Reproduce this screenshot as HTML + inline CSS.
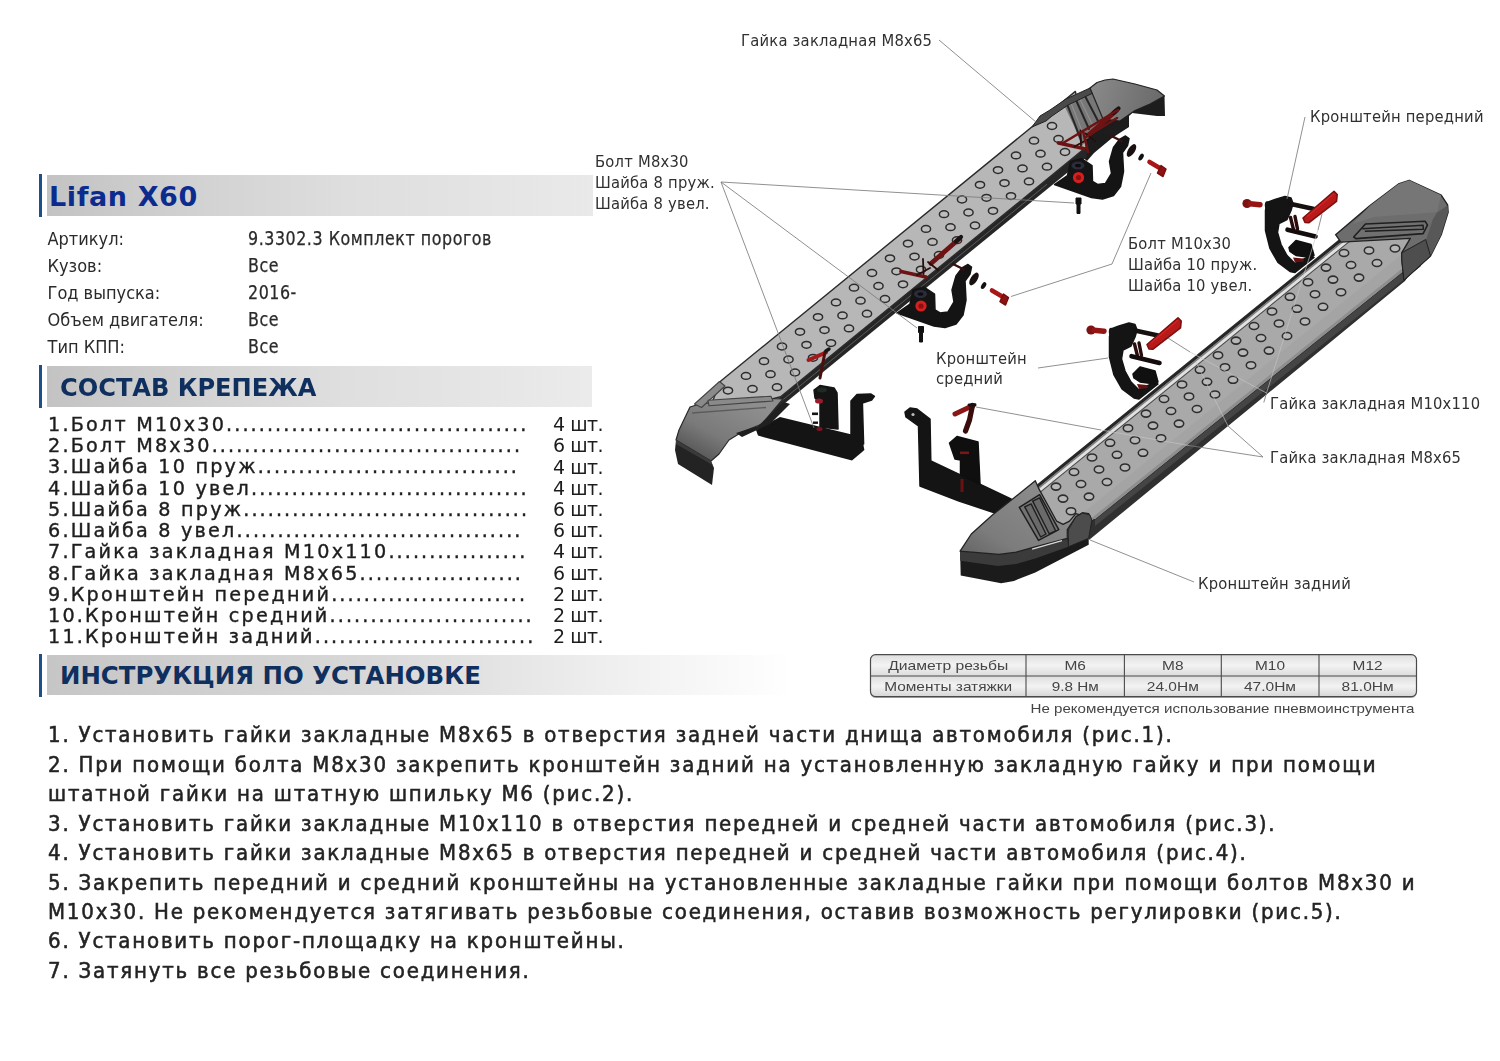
<!DOCTYPE html>
<html lang="ru">
<head>
<meta charset="utf-8">
<title>Lifan X60 - Комплект порогов</title>
<style>
html,body{margin:0;padding:0;background:#fff;}
body{width:1500px;height:1061px;position:relative;overflow:hidden;font-family:"Liberation Sans","DejaVu Sans",sans-serif;color:#1a1a1a;}
.abs{position:absolute;white-space:nowrap;}
.bar{position:absolute;left:47px;height:41px;}
.vline{position:absolute;left:39px;width:3px;background:#1d4f8c;}
.h1{position:absolute;white-space:nowrap;font-family:"DejaVu Sans","Liberation Sans",sans-serif;font-weight:bold;}
.lbl{position:absolute;left:47.5px;white-space:nowrap;font-family:"DejaVu Sans Condensed","Liberation Sans",sans-serif;font-size:18px;color:#2a2a2a;line-height:20px;}
.val{position:absolute;left:248px;white-space:nowrap;font-family:"DejaVu Sans Condensed","Liberation Sans",sans-serif;font-size:19.2px;color:#2a2a2a;line-height:20px;letter-spacing:0.6px;transform:scaleX(0.92);transform-origin:0 0;}
.li{-webkit-text-stroke:0.4px #262626;}.val{-webkit-text-stroke:0.25px #2a2a2a;}.ins{-webkit-text-stroke:0.55px #282828;}
.li{position:absolute;left:48px;white-space:nowrap;font-family:"DejaVu Sans","Liberation Sans",sans-serif;font-size:19.2px;color:#1c1c1c;line-height:21px;}
.nm{letter-spacing:2.2px;}.dots{letter-spacing:2.07px;}
.qty{position:absolute;left:553px;white-space:nowrap;font-family:"DejaVu Sans","Liberation Sans",sans-serif;font-size:19px;color:#1c1c1c;line-height:21px;letter-spacing:-0.5px;}
.ins{position:absolute;left:48px;white-space:nowrap;font-family:"DejaVu Sans Condensed","Liberation Sans",sans-serif;font-size:22px;color:#222;line-height:29px;letter-spacing:1.79px;}
</style>
</head>
<body>
<div id="page" style="position:absolute;left:0;top:0;width:1500px;height:1061px;opacity:0.999;">

<!-- header bars -->
<div class="vline" style="top:174px;height:43px;"></div>
<div class="bar" style="top:175px;width:546px;background:linear-gradient(90deg,#c3c3c3 0%,#d3d3d3 30%,#dedede 55%,#e9e9e9 100%);"></div>
<div class="h1" id="t1" style="left:49px;top:182px;font-size:27px;line-height:30px;color:#0b2b8f;letter-spacing:0.6px;">Lifan X60</div>

<div class="vline" style="top:365px;height:43px;"></div>
<div class="bar" style="top:366px;width:545px;background:linear-gradient(90deg,#c3c3c3 0%,#d3d3d3 30%,#dfdfdf 55%,#ebebeb 100%);"></div>
<div class="h1" id="t2" style="left:60px;top:373px;font-size:25.3px;line-height:30px;color:#0f2f5f;transform:scaleX(0.953);transform-origin:0 0;">СОСТАВ КРЕПЕЖА</div>

<div class="vline" style="top:654px;height:43px;"></div>
<div class="bar" style="top:655px;width:745px;height:40px;background:linear-gradient(90deg,#c6c6c6 0%,#d9d9d9 45%,#f2f2f2 80%,#ffffff 100%);"></div>
<div class="h1" id="t3" style="left:59.5px;top:660.7px;font-size:25.3px;line-height:30px;color:#0f2f5f;transform:scaleX(0.965);transform-origin:0 0;">ИНСТРУКЦИЯ ПО УСТАНОВКЕ</div>

<!-- SECTION:INFO -->
<div class="lbl" id="l0" style="top:228.5px;">Артикул:</div><div class="val" id="v0" style="top:228.9px;">9.3302.3 Комплект порогов</div>
<div class="lbl" id="l1" style="top:255.5px;">Кузов:</div><div class="val" id="v1" style="top:255.9px;">Все</div>
<div class="lbl" id="l2" style="top:282.6px;">Год выпуска:</div><div class="val" id="v2" style="top:283.0px;">2016-</div>
<div class="lbl" id="l3" style="top:309.6px;">Объем двигателя:</div><div class="val" id="v3" style="top:310.0px;">Все</div>
<div class="lbl" id="l4" style="top:336.7px;">Тип КПП:</div><div class="val" id="v4" style="top:337.1px;">Все</div>
<!-- SECTION:LIST -->
<div class="li" id="i0" style="top:413.9px;"><span class="nm">1.Болт М10х30</span><span class="dots">.....................................</span></div><div class="qty" id="q0" style="top:414.0px;">4 шт.</div>
<div class="li" id="i1" style="top:435.1px;"><span class="nm">2.Болт М8х30</span><span class="dots">......................................</span></div><div class="qty" id="q1" style="top:435.2px;">6 шт.</div>
<div class="li" id="i2" style="top:456.3px;"><span class="nm">3.Шайба 10 пруж</span><span class="dots">................................</span></div><div class="qty" id="q2" style="top:456.5px;">4 шт.</div>
<div class="li" id="i3" style="top:477.6px;"><span class="nm">4.Шайба 10 увел</span><span class="dots">..................................</span></div><div class="qty" id="q3" style="top:477.7px;">4 шт.</div>
<div class="li" id="i4" style="top:498.8px;"><span class="nm">5.Шайба 8 пруж</span><span class="dots">...................................</span></div><div class="qty" id="q4" style="top:498.9px;">6 шт.</div>
<div class="li" id="i5" style="top:520.0px;"><span class="nm">6.Шайба 8 увел</span><span class="dots">...................................</span></div><div class="qty" id="q5" style="top:520.1px;">6 шт.</div>
<div class="li" id="i6" style="top:541.2px;"><span class="nm">7.Гайка закладная М10х110</span><span class="dots">.................</span></div><div class="qty" id="q6" style="top:541.4px;">4 шт.</div>
<div class="li" id="i7" style="top:562.5px;"><span class="nm">8.Гайка закладная М8х65</span><span class="dots">....................</span></div><div class="qty" id="q7" style="top:562.6px;">6 шт.</div>
<div class="li" id="i8" style="top:583.7px;"><span class="nm">9.Кронштейн передний</span><span class="dots">........................</span></div><div class="qty" id="q8" style="top:583.8px;">2 шт.</div>
<div class="li" id="i9" style="top:604.9px;"><span class="nm">10.Кронштейн средний</span><span class="dots">.........................</span></div><div class="qty" id="q9" style="top:605.1px;">2 шт.</div>
<div class="li" id="i10" style="top:626.2px;"><span class="nm">11.Кронштейн задний</span><span class="dots">...........................</span></div><div class="qty" id="q10" style="top:626.3px;">2 шт.</div>
<!-- SECTION:INSTR -->
<div class="ins" id="n0" style="top:720.3px;">1. Установить гайки закладные М8х65 в отверстия задней части днища автомобиля (рис.1).</div>
<div class="ins" id="n1" style="top:749.8px;">2. При помощи болта М8х30 закрепить кронштейн задний на установленную закладную гайку и при помощи</div>
<div class="ins" id="n2" style="top:779.2px;">штатной гайки на штатную шпильку М6 (рис.2).</div>
<div class="ins" id="n3" style="top:808.6px;">3. Установить гайки закладные М10х110 в отверстия передней и средней части автомобиля (рис.3).</div>
<div class="ins" id="n4" style="top:838.1px;">4. Установить гайки закладные М8х65 в отверстия передней и средней части автомобиля (рис.4).</div>
<div class="ins" id="n5" style="top:867.5px;">5. Закрепить передний и средний кронштейны на установленные закладные гайки при помощи болтов М8х30 и</div>
<div class="ins" id="n6" style="top:897.0px;">М10х30. Не рекомендуется затягивать резьбовые соединения, оставив возможность регулировки (рис.5).</div>
<div class="ins" id="n7" style="top:926.4px;">6. Установить порог-площадку на кронштейны.</div>
<div class="ins" id="n8" style="top:955.9px;">7. Затянуть все резьбовые соединения.</div>
<!-- SECTION:TABLE -->
<!-- SECTION:DIAGRAM -->
<svg width="1500" height="1061" viewBox="0 0 1500 1061" style="position:absolute;left:0;top:0;">
<g><path d="M1111.0,329.0 1119.0,326.0 1129.0,323.0 1135.0,324.5 1137.0,330.0 1135.0,337.0 1131.0,346.0 1123.0,350.0 1121.5,359.0 1125.0,371.0 1131.0,382.0 1139.0,390.0 1155.0,382.0 1158.0,384.0 1139.0,399.0 1134.0,398.0 1122.0,389.0 1114.0,375.0 1109.5,357.0 1109.5,337.0 Z" fill="#141414" stroke="#141414" stroke-width="1.5" stroke-linejoin="round"/>
<path d="M1133.0,374.0 1140.0,367.0 1155.0,371.0 1158.0,382.0 1155.0,384.0 1140.0,382.0 1134.0,378.0 Z" fill="#101010" stroke="#101010" stroke-width="1.5" stroke-linejoin="round"/>
<path d="M1137.0,384.0 1147.0,385.0 1148.0,388.0 1139.0,389.0 Z" fill="#651111"/>
<path d="M1135.0,330.5 1158.0,335.5" stroke="#161010" stroke-width="4.5" stroke-linecap="round"/>
<path d="M1134.5,344.0 1137.5,356.0 M1139.0,343.0 1141.5,355.5" stroke="#2a0c0c" stroke-width="3.4" stroke-linecap="round" fill="none"/>
<path d="M1131.5,356.2 1159.5,363.0" stroke="#140c0c" stroke-width="4.6" stroke-linecap="round"/>
<path d="M1147.0,344.5 1178.0,317.8 1181.2,321.0 1180.5,327.8 1153.0,349.2 1149.0,349.0 Z" fill="#b81a1a" stroke="#7c1010" stroke-width="1.6" stroke-linejoin="round"/>
<path d="M1151.0,343.0 1178.0,320.0" stroke="#d32222" stroke-width="1.6"/>
<circle cx="1091" cy="330" r="4.6" fill="#7d1212"/><path d="M1094,330.3 L1104,331.2" stroke="#951515" stroke-width="5.4" stroke-linecap="round"/>
<ellipse cx="1111" cy="331.8" rx="2.2" ry="4" fill="#151515"/></g>
<g transform="translate(156,-126.5)"><path d="M1111.0,329.0 1119.0,326.0 1129.0,323.0 1135.0,324.5 1137.0,330.0 1135.0,337.0 1131.0,346.0 1123.0,350.0 1121.5,359.0 1125.0,371.0 1131.0,382.0 1139.0,390.0 1155.0,382.0 1158.0,384.0 1139.0,399.0 1134.0,398.0 1122.0,389.0 1114.0,375.0 1109.5,357.0 1109.5,337.0 Z" fill="#141414" stroke="#141414" stroke-width="1.5" stroke-linejoin="round"/>
<path d="M1133.0,374.0 1140.0,367.0 1155.0,371.0 1158.0,382.0 1155.0,384.0 1140.0,382.0 1134.0,378.0 Z" fill="#101010" stroke="#101010" stroke-width="1.5" stroke-linejoin="round"/>
<path d="M1137.0,384.0 1147.0,385.0 1148.0,388.0 1139.0,389.0 Z" fill="#651111"/>
<path d="M1135.0,330.5 1158.0,335.5" stroke="#161010" stroke-width="4.5" stroke-linecap="round"/>
<path d="M1134.5,344.0 1137.5,356.0 M1139.0,343.0 1141.5,355.5" stroke="#2a0c0c" stroke-width="3.4" stroke-linecap="round" fill="none"/>
<path d="M1131.5,356.2 1159.5,363.0" stroke="#140c0c" stroke-width="4.6" stroke-linecap="round"/>
<path d="M1147.0,344.5 1178.0,317.8 1181.2,321.0 1180.5,327.8 1153.0,349.2 1149.0,349.0 Z" fill="#b81a1a" stroke="#7c1010" stroke-width="1.6" stroke-linejoin="round"/>
<path d="M1151.0,343.0 1178.0,320.0" stroke="#d32222" stroke-width="1.6"/>
<circle cx="1091" cy="330" r="4.6" fill="#7d1212"/><path d="M1094,330.3 L1104,331.2" stroke="#951515" stroke-width="5.4" stroke-linecap="round"/>
<ellipse cx="1111" cy="331.8" rx="2.2" ry="4" fill="#151515"/></g>
<path d="M905.0,412.0 910.0,408.0 917.0,409.0 930.0,419.0 930.8,461.0 1011.0,499.0 1017.0,505.0 995.0,513.0 959.0,501.0 920.0,486.0 918.5,426.0 906.0,417.0 Z" fill="#141414" stroke="#141414" stroke-width="1.5" stroke-linejoin="round"/>
<circle cx="913.0" cy="414.5" r="1.6" fill="#bbb"/>
<path d="M949.5,443.0 957.0,436.5 978.0,442.0 980.0,484.0 960.5,475.0 960.5,460.0 955.0,459.0 Z" fill="#0f0f0f" stroke="#0f0f0f" stroke-width="1.5" stroke-linejoin="round"/>
<path d="M955.0,414.0 973.0,405.5" stroke="#8a1717" stroke-width="5" stroke-linecap="round" fill="none"/>
<path d="M972.5,405.5 969.5,420.0 965.5,431.0" stroke="#3a0d0d" stroke-width="5.2" stroke-linecap="round" stroke-linejoin="round" fill="none"/>
<path d="M969.0,405.0 975.0,404.8" stroke="#141010" stroke-width="3" stroke-linecap="round" fill="none"/>
<rect x="960" y="451.5" width="9" height="2.6" fill="#7c1515"/><rect x="960.5" y="479" width="3" height="13" fill="#6a1212"/>
<polygon points="1421.0,257.0 1095.0,519.0 1086.0,521.0 1089.0,540.0 1405.0,281.0" fill="#303030"/>
<polygon points="1421.0,257.0 1095.0,519.0 1095.0,526.0 1421.0,266.0" fill="#454545"/>
<polygon points="1343.3,236.9 1013.9,504.1 1030.0,494.0 1052.0,532.0 1080.0,528.0 1095.0,519.0 1421.0,257.0 1412.0,238.0 1341.0,240.0" fill="#a9a9a9" stroke="#2b2b2b" stroke-width="1.4" stroke-linejoin="round"/>
<polygon points="1408.0,249.4 1084.0,512.2 1095.0,519.0 1421.0,257.0" fill="#a4a4a4"/>
<polygon points="1416.5,257.0 1090.5,519.0 1095.0,519.0 1421.0,257.0" fill="#8e8e8e"/>
<polygon points="1343.3,236.9 1013.9,504.1 1017.9,504.1 1347.3,236.9" fill="#262626"/>
<polygon points="1347.3,236.9 1017.9,504.1 1020.4,504.1 1349.8,236.9" fill="#7d7d7d"/>
<polygon points="1349.8,236.9 1020.4,504.1 1024.9,504.1 1354.3,236.9" fill="#e2e2e2"/>
<polygon points="1354.3,236.9 1024.9,504.1 1026.4,504.1 1355.8,236.9" fill="#4a4a4a"/>
<g fill="#b8b8b8" stroke="#2e2e2e" stroke-width="1.55"><ellipse cx="1344.0" cy="253.0" rx="4.7" ry="3.5"/><ellipse cx="1326.0" cy="267.6" rx="4.7" ry="3.5"/><ellipse cx="1308.0" cy="282.2" rx="4.7" ry="3.5"/><ellipse cx="1290.0" cy="296.8" rx="4.7" ry="3.5"/><ellipse cx="1272.0" cy="311.4" rx="4.7" ry="3.5"/><ellipse cx="1254.0" cy="326.0" rx="4.7" ry="3.5"/><ellipse cx="1236.0" cy="340.6" rx="4.7" ry="3.5"/><ellipse cx="1218.0" cy="355.2" rx="4.7" ry="3.5"/><ellipse cx="1200.0" cy="369.8" rx="4.7" ry="3.5"/><ellipse cx="1182.0" cy="384.4" rx="4.7" ry="3.5"/><ellipse cx="1164.0" cy="399.0" rx="4.7" ry="3.5"/><ellipse cx="1146.0" cy="413.6" rx="4.7" ry="3.5"/><ellipse cx="1128.0" cy="428.2" rx="4.7" ry="3.5"/><ellipse cx="1110.0" cy="442.8" rx="4.7" ry="3.5"/><ellipse cx="1092.0" cy="457.4" rx="4.7" ry="3.5"/><ellipse cx="1074.0" cy="472.0" rx="4.7" ry="3.5"/><ellipse cx="1056.0" cy="486.6" rx="4.7" ry="3.5"/><ellipse cx="1369.0" cy="250.4" rx="4.7" ry="3.5"/><ellipse cx="1351.0" cy="265.0" rx="4.7" ry="3.5"/><ellipse cx="1333.0" cy="279.6" rx="4.7" ry="3.5"/><ellipse cx="1315.0" cy="294.2" rx="4.7" ry="3.5"/><ellipse cx="1297.0" cy="308.8" rx="4.7" ry="3.5"/><ellipse cx="1279.0" cy="323.4" rx="4.7" ry="3.5"/><ellipse cx="1261.0" cy="338.0" rx="4.7" ry="3.5"/><ellipse cx="1243.0" cy="352.6" rx="4.7" ry="3.5"/><ellipse cx="1225.0" cy="367.2" rx="4.7" ry="3.5"/><ellipse cx="1207.0" cy="381.8" rx="4.7" ry="3.5"/><ellipse cx="1189.0" cy="396.4" rx="4.7" ry="3.5"/><ellipse cx="1171.0" cy="411.0" rx="4.7" ry="3.5"/><ellipse cx="1153.0" cy="425.6" rx="4.7" ry="3.5"/><ellipse cx="1135.0" cy="440.2" rx="4.7" ry="3.5"/><ellipse cx="1117.0" cy="454.8" rx="4.7" ry="3.5"/><ellipse cx="1099.0" cy="469.4" rx="4.7" ry="3.5"/><ellipse cx="1081.0" cy="484.0" rx="4.7" ry="3.5"/><ellipse cx="1063.0" cy="498.6" rx="4.7" ry="3.5"/><ellipse cx="1395.0" cy="248.4" rx="4.7" ry="3.5"/><ellipse cx="1377.0" cy="263.0" rx="4.7" ry="3.5"/><ellipse cx="1359.0" cy="277.6" rx="4.7" ry="3.5"/><ellipse cx="1341.0" cy="292.2" rx="4.7" ry="3.5"/><ellipse cx="1323.0" cy="306.8" rx="4.7" ry="3.5"/><ellipse cx="1305.0" cy="321.4" rx="4.7" ry="3.5"/><ellipse cx="1287.0" cy="336.0" rx="4.7" ry="3.5"/><ellipse cx="1269.0" cy="350.6" rx="4.7" ry="3.5"/><ellipse cx="1251.0" cy="365.2" rx="4.7" ry="3.5"/><ellipse cx="1233.0" cy="379.8" rx="4.7" ry="3.5"/><ellipse cx="1215.0" cy="394.4" rx="4.7" ry="3.5"/><ellipse cx="1197.0" cy="409.0" rx="4.7" ry="3.5"/><ellipse cx="1179.0" cy="423.6" rx="4.7" ry="3.5"/><ellipse cx="1161.0" cy="438.2" rx="4.7" ry="3.5"/><ellipse cx="1143.0" cy="452.8" rx="4.7" ry="3.5"/><ellipse cx="1125.0" cy="467.4" rx="4.7" ry="3.5"/><ellipse cx="1107.0" cy="482.0" rx="4.7" ry="3.5"/><ellipse cx="1089.0" cy="496.6" rx="4.7" ry="3.5"/><ellipse cx="1071.0" cy="511.2" rx="4.7" ry="3.5"/></g>
<polygon points="1335.6,234.7 1369.7,205.9 1398.5,184.0 1409.2,180.3 1441.2,195.2 1447.6,204.8 1448.1,212.3 1441.2,234.7 1430.5,256.0 1404.0,280.0 1402.0,262.0 1401.7,252.8 1410.3,238.4 1340.9,242.1" fill="#6d6d6d" stroke="#222" stroke-width="1.4" stroke-linejoin="round"/>
<polygon points="1369.7,205.9 1398.5,184.0 1409.2,180.3 1441.2,195.2 1436.9,212.3 1374.0,217.1 1352.7,224.0" fill="#767676"/>
<polygon points="1436.9,212.8 1447.6,205.3 1448.1,212.3 1441.2,234.7 1430.5,256.0 1425.7,241.1 1432.7,219.7" fill="#585858"/>
<polygon points="1401.7,252.8 1425.7,239.5 1430.5,256.0 1404.0,280.0 1402.0,262.0" fill="#4e4e4e" stroke="#222" stroke-width="1"/>
<path d="M1353.7,237.0 1365.5,224.0 1425.2,221.3 1427.5,225.1 1423.1,233.6 1355.9,238.6 Z" fill="#707070" stroke="#1f1f1f" stroke-width="1.6" stroke-linejoin="round"/>
<path d="M1362.3,228.8 1423.1,225.3 1423.3,229.3 1364.9,231.3" fill="none" stroke="#1f1f1f" stroke-width="1.5" stroke-linejoin="round"/>
<polygon points="960.1,551.1 999.1,554.3 1016.1,552.1 1033.2,547.3 1067.3,538.3 1088.7,529.7 1088.7,544.7 1035.3,572.4 1014.0,580.9 1001.2,583.3 960.7,575.6" fill="#1b1b1b"/>
<polygon points="960.1,551.1 999.1,554.3 1016.1,552.1 1033.2,547.3 1067.3,538.3 1068.4,546.8 1035.3,558.5 1016.1,563.9 998.0,566.0 960.1,560.7" fill="#3b3b3b"/>
<defs><linearGradient id="c3g" gradientUnits="userSpaceOnUse" x1="1030" y1="490" x2="985" y2="560"><stop offset="0" stop-color="#8a8a8a"/><stop offset="0.7" stop-color="#7c7c7c"/><stop offset="1" stop-color="#6a6a6a"/></linearGradient></defs>
<polygon points="1035.3,480.7 1018.3,494.5 992.7,514.8 971.3,534.0 960.1,551.1 999.1,554.3 1016.1,552.1 1033.2,547.3 1067.3,538.3 1067.3,529.7 1075.9,516.9 1082.3,512.7 1088.7,513.7 1090.8,518.0 1075.9,513.7 1069.5,521.2 1063.1,524.4 1056.7,521.2 1038.5,488.1" fill="url(#c3g)" stroke="#222" stroke-width="1.3" stroke-linejoin="round"/>
<polygon points="1068.4,529.7 1075.9,516.9 1082.3,513.2 1089.7,514.8 1091.9,520.1 1088.7,538.3 1068.4,546.8" fill="#4c4c4c" stroke="#222" stroke-width="1"/>
<polygon points="1019.3,507.3 1039.6,494.7 1058.8,529.7 1038.5,540.4" fill="#737373" stroke="#1f1f1f" stroke-width="1.5" stroke-linejoin="round"/>
<polygon points="1024.7,506.8 1031.1,503.9 1046.0,534.0 1040.7,537.0" fill="#6a6a6a" stroke="#1f1f1f" stroke-width="1.4" stroke-linejoin="round"/>
<polygon points="1032.7,501.1 1039.6,497.9 1055.6,530.8 1049.2,533.8" fill="#6a6a6a" stroke="#1f1f1f" stroke-width="1.4" stroke-linejoin="round"/>
<path d="M1032.1,549.1 1062.0,540.6" stroke="#d8d8d8" stroke-width="1.3" fill="none"/>
<polygon points="756.0,430.0 780.0,417.0 862.0,437.0 864.4,450.0 852.0,460.6 758.0,435.6" fill="#141414" />
<path d="M814.0,390.0 820.0,385.6 834.0,388.0 837.0,393.0 838.0,429.0 820.0,427.0 820.0,403.0 815.0,398.0 Z" fill="#141414" stroke="#141414" stroke-width="1.5" stroke-linejoin="round"/>
<path d="M851.0,401.0 857.0,394.4 871.0,394.0 874.4,396.4 871.6,400.0 862.4,403.0 863.6,444.0 851.0,440.0 Z" fill="#141414" stroke="#141414" stroke-width="1.5" stroke-linejoin="round"/>
<ellipse cx="819" cy="401" rx="4" ry="2.6" fill="#9a1c2a"/><rect x="812" y="412.5" width="6" height="2.6" fill="#151515"/><rect x="813" y="421.5" width="5" height="2.4" fill="#151515"/>
<ellipse cx="819.5" cy="429" rx="3" ry="2" fill="#7a1420"/>
<ellipse cx="822" cy="390" rx="5" ry="2.4" fill="#1f2a22"/>
<defs><linearGradient id="c1g" gradientUnits="userSpaceOnUse" x1="735" y1="395" x2="700" y2="460"><stop offset="0" stop-color="#8e8e8e"/><stop offset="0.6" stop-color="#7a7a7a"/><stop offset="1" stop-color="#555"/></linearGradient><linearGradient id="c2g" gradientUnits="userSpaceOnUse" x1="1095" y1="85" x2="1160" y2="105"><stop offset="0" stop-color="#888"/><stop offset="1" stop-color="#6a6a6a"/></linearGradient></defs>
<polygon points="1074,150 1092,118 1118,105 1129,113 1129,127 1112,138 1094,153 1087,161" fill="#1c1c1c"/>
<polygon points="1086.6,146.9 769.8,405.6 768.0,417.0 1086.6,156.9" fill="#262626"/>
<line x1="1047.0" y1="184.2" x2="773.4" y2="407.6" stroke="#5a5a5a" stroke-width="1"/>
<polygon points="1075.4,91.4 720.8,381.0 712.0,402.5 772.0,399.0 780.6,396.8 1086.6,146.9" fill="#b7b7b7" stroke="#2b2b2b" stroke-width="1.4" stroke-linejoin="round"/>
<g fill="#bcbcbc" stroke="#2c2c2c" stroke-width="1.5"><ellipse cx="1052.0" cy="126.0" rx="4.6" ry="3.4"/><ellipse cx="1034.0" cy="140.7" rx="4.6" ry="3.4"/><ellipse cx="1016.0" cy="155.4" rx="4.6" ry="3.4"/><ellipse cx="998.0" cy="170.1" rx="4.6" ry="3.4"/><ellipse cx="980.0" cy="184.8" rx="4.6" ry="3.4"/><ellipse cx="962.0" cy="199.5" rx="4.6" ry="3.4"/><ellipse cx="944.0" cy="214.2" rx="4.6" ry="3.4"/><ellipse cx="926.0" cy="228.9" rx="4.6" ry="3.4"/><ellipse cx="908.0" cy="243.6" rx="4.6" ry="3.4"/><ellipse cx="890.0" cy="258.3" rx="4.6" ry="3.4"/><ellipse cx="872.0" cy="273.0" rx="4.6" ry="3.4"/><ellipse cx="854.0" cy="287.7" rx="4.6" ry="3.4"/><ellipse cx="836.0" cy="302.4" rx="4.6" ry="3.4"/><ellipse cx="818.0" cy="317.1" rx="4.6" ry="3.4"/><ellipse cx="800.0" cy="331.8" rx="4.6" ry="3.4"/><ellipse cx="782.0" cy="346.5" rx="4.6" ry="3.4"/><ellipse cx="764.0" cy="361.2" rx="4.6" ry="3.4"/><ellipse cx="746.0" cy="375.9" rx="4.6" ry="3.4"/><ellipse cx="728.0" cy="390.6" rx="4.6" ry="3.4"/><ellipse cx="1058.5" cy="139.0" rx="4.6" ry="3.4"/><ellipse cx="1040.5" cy="153.7" rx="4.6" ry="3.4"/><ellipse cx="1022.5" cy="168.4" rx="4.6" ry="3.4"/><ellipse cx="1004.5" cy="183.1" rx="4.6" ry="3.4"/><ellipse cx="986.5" cy="197.8" rx="4.6" ry="3.4"/><ellipse cx="968.5" cy="212.5" rx="4.6" ry="3.4"/><ellipse cx="950.5" cy="227.2" rx="4.6" ry="3.4"/><ellipse cx="932.5" cy="241.9" rx="4.6" ry="3.4"/><ellipse cx="914.5" cy="256.6" rx="4.6" ry="3.4"/><ellipse cx="896.5" cy="271.3" rx="4.6" ry="3.4"/><ellipse cx="878.5" cy="286.0" rx="4.6" ry="3.4"/><ellipse cx="860.5" cy="300.7" rx="4.6" ry="3.4"/><ellipse cx="842.5" cy="315.4" rx="4.6" ry="3.4"/><ellipse cx="824.5" cy="330.1" rx="4.6" ry="3.4"/><ellipse cx="806.5" cy="344.8" rx="4.6" ry="3.4"/><ellipse cx="788.5" cy="359.5" rx="4.6" ry="3.4"/><ellipse cx="770.5" cy="374.2" rx="4.6" ry="3.4"/><ellipse cx="752.5" cy="388.9" rx="4.6" ry="3.4"/><ellipse cx="1065.0" cy="152.0" rx="4.6" ry="3.4"/><ellipse cx="1047.0" cy="166.7" rx="4.6" ry="3.4"/><ellipse cx="1029.0" cy="181.4" rx="4.6" ry="3.4"/><ellipse cx="1011.0" cy="196.1" rx="4.6" ry="3.4"/><ellipse cx="993.0" cy="210.8" rx="4.6" ry="3.4"/><ellipse cx="975.0" cy="225.5" rx="4.6" ry="3.4"/><ellipse cx="957.0" cy="240.2" rx="4.6" ry="3.4"/><ellipse cx="939.0" cy="254.9" rx="4.6" ry="3.4"/><ellipse cx="921.0" cy="269.6" rx="4.6" ry="3.4"/><ellipse cx="903.0" cy="284.3" rx="4.6" ry="3.4"/><ellipse cx="885.0" cy="299.0" rx="4.6" ry="3.4"/><ellipse cx="867.0" cy="313.7" rx="4.6" ry="3.4"/><ellipse cx="849.0" cy="328.4" rx="4.6" ry="3.4"/><ellipse cx="831.0" cy="343.1" rx="4.6" ry="3.4"/><ellipse cx="813.0" cy="357.8" rx="4.6" ry="3.4"/><ellipse cx="795.0" cy="372.5" rx="4.6" ry="3.4"/><ellipse cx="777.0" cy="387.2" rx="4.6" ry="3.4"/></g>
<polygon points="690.0,407.0 698.0,404.5 712.0,402.5 772.0,398.5 783.0,399.0 762.0,424.0 742.0,432.0 729.0,440.0 719.0,454.0 711.0,461.0 676.0,440.0 679.0,430.0" fill="url(#c1g)" stroke="#2a2a2a" stroke-width="1.2" stroke-linejoin="round"/>
<polygon points="676.0,440.0 711.0,461.0 714.0,468.0 712.0,485.0 678.0,464.0 675.0,450.0" fill="#232323"/>
<polygon points="676.0,440.0 711.0,461.0 712.5,465.0 676.0,444.0" fill="#3a3a3a"/>
<polygon points="719.5,381.5 725,386 701.5,407.5 694.5,404" fill="#8a8a8a" stroke="#444" stroke-width="1.1" stroke-linejoin="round"/>
<polygon points="708,400.2 771,396.2 773,401 709,405.8" fill="#8a8a8a" stroke="#444" stroke-width="1.1" stroke-linejoin="round"/>
<path d="M692,413 L766,407.5" stroke="#5c5c5c" stroke-width="1.4" fill="none"/>
<path d="M736,433 L758,426 L784,402 L790,404 L770,424 L742,437 Z" fill="#1f1f1f"/>
<polygon points="1063.0,103.0 1092.0,89.0 1104.0,118.0 1082.0,146.0 1074.0,126.0" fill="#777"/>
<g stroke="#262626" stroke-width="2" stroke-linecap="round" fill="none"><path d="M1067,104 L1081,140"/><path d="M1076,100 L1089,129"/><path d="M1085,96 L1098,121"/></g>
<g stroke="#8f8f8f" stroke-width="1.2" fill="none"><path d="M1071,103 L1084,136"/><path d="M1080,99 L1093,126"/></g>
<path d="M1032,127 L1040,116 L1050,110 L1066,99 L1090,88 L1093,93 L1068,105 L1052,116 L1046,121 Z" fill="#4a4a4a" stroke="#222" stroke-width="1"/>
<polygon points="1090.0,88.0 1097.0,82.5 1105.0,80.0 1113.0,79.0 1135.0,84.0 1157.0,90.0 1164.5,96.0 1150.0,104.0 1135.0,110.5 1120.0,121.0 1103.0,119.0" fill="url(#c2g)" stroke="#222" stroke-width="1.2" stroke-linejoin="round"/>
<polygon points="1135.0,110.5 1150.0,104.0 1164.5,96.0 1165.0,116.0 1157.0,116.0 1132.0,113.0 1128.0,117.0 1128.0,127.0 1111.0,137.0 1103.0,131.0 1120.0,121.0" fill="#1d1d1d"/>
<g><path d="M913.0,290.0 924.0,287.0 934.5,294.0 935.0,310.0 940.0,313.0 948.0,312.0 954.0,302.0 952.0,290.0 956.0,276.0 962.0,268.0 968.0,264.5 971.5,267.0 970.0,274.0 965.0,281.0 966.0,300.0 963.0,315.0 956.0,324.0 945.0,327.5 934.0,326.0 897.0,313.0 910.0,304.0 912.0,295.0 Z" fill="#141414" stroke="#141414" stroke-width="1.5" stroke-linejoin="round"/>
<ellipse cx="920.5" cy="294" rx="6.5" ry="4" fill="#2b2d3a"/>
<ellipse cx="920.5" cy="294" rx="3" ry="1.8" fill="#0c0c10"/>
<circle cx="921" cy="306" r="5.6" fill="#d42020"/><circle cx="921" cy="306" r="2.6" fill="#8c0f0f"/>
<ellipse cx="974" cy="279" rx="3.4" ry="7.2" transform="rotate(32 974 279)" fill="#1a1010"/>
<ellipse cx="983.6" cy="285.6" rx="2.1" ry="3.8" transform="rotate(32 983.6 285.6)" fill="#111"/>
<path d="M992,290.5 L1003,297" stroke="#a81717" stroke-width="4.6" stroke-linecap="round"/>
<path d="M1003.5,294 L1008.5,297.5 L1005.5,305 L1000,301.5 Z" fill="#8e1212" stroke="#7a0f0f" stroke-width="1.5" stroke-linejoin="round"/>
<path d="M918.5,326.5 h5 v6 h-1 v9.5 h-3 v-9.5 h-1 Z" fill="#101010" stroke="#101010" stroke-width="1" stroke-linejoin="round"/>
<path d="M931,263.5 L959,239" stroke="#6d1313" stroke-width="4.8" stroke-linecap="round"/>
<path d="M956,241.5 L961,237" stroke="#151515" stroke-width="4.2" stroke-linecap="round"/>
<path d="M901,271.5 L926,277" stroke="#6d1313" stroke-width="3.8" stroke-linecap="round"/>
<path d="M923,259 L923.5,274 M917,275 L930,268 M928,262 L938,270" stroke="#2a0d0d" stroke-width="1.8" stroke-linecap="round" fill="none"/>
<path d="M953,264 L964,269.5" stroke="#3a0f0f" stroke-width="2.4" stroke-linecap="round"/></g>
<g transform="translate(157.5,-128.5)"><path d="M913.0,290.0 924.0,287.0 934.5,294.0 935.0,310.0 940.0,313.0 948.0,312.0 954.0,302.0 952.0,290.0 956.0,276.0 962.0,268.0 968.0,264.5 971.5,267.0 970.0,274.0 965.0,281.0 966.0,300.0 963.0,315.0 956.0,324.0 945.0,327.5 934.0,326.0 897.0,313.0 910.0,304.0 912.0,295.0 Z" fill="#141414" stroke="#141414" stroke-width="1.5" stroke-linejoin="round"/>
<ellipse cx="920.5" cy="294" rx="6.5" ry="4" fill="#2b2d3a"/>
<ellipse cx="920.5" cy="294" rx="3" ry="1.8" fill="#0c0c10"/>
<circle cx="921" cy="306" r="5.6" fill="#d42020"/><circle cx="921" cy="306" r="2.6" fill="#8c0f0f"/>
<ellipse cx="974" cy="279" rx="3.4" ry="7.2" transform="rotate(32 974 279)" fill="#1a1010"/>
<ellipse cx="983.6" cy="285.6" rx="2.1" ry="3.8" transform="rotate(32 983.6 285.6)" fill="#111"/>
<path d="M992,290.5 L1003,297" stroke="#a81717" stroke-width="4.6" stroke-linecap="round"/>
<path d="M1003.5,294 L1008.5,297.5 L1005.5,305 L1000,301.5 Z" fill="#8e1212" stroke="#7a0f0f" stroke-width="1.5" stroke-linejoin="round"/>
<path d="M918.5,326.5 h5 v6 h-1 v9.5 h-3 v-9.5 h-1 Z" fill="#101010" stroke="#101010" stroke-width="1" stroke-linejoin="round"/>
<path d="M931,263.5 L959,239" stroke="#6d1313" stroke-width="4.8" stroke-linecap="round"/>
<path d="M956,241.5 L961,237" stroke="#151515" stroke-width="4.2" stroke-linecap="round"/>
<path d="M901,271.5 L926,277" stroke="#6d1313" stroke-width="3.8" stroke-linecap="round"/>
<path d="M923,259 L923.5,274 M917,275 L930,268 M928,262 L938,270" stroke="#2a0d0d" stroke-width="1.8" stroke-linecap="round" fill="none"/>
<path d="M953,264 L964,269.5" stroke="#3a0f0f" stroke-width="2.4" stroke-linecap="round"/></g>
<path d="M1063,143 L1118,110 M1083,131 L1088,152 M1086,137 L1117,118" stroke="#6d1313" stroke-width="2.6" stroke-linecap="round" fill="none"/>
<path d="M808.5,360 L826,352.5" stroke="#a31818" stroke-width="4" stroke-linecap="round"/>
<path d="M825,352 L820,378" stroke="#4a1010" stroke-width="3" stroke-linecap="round"/>
<path d="M826,351 L829,349" stroke="#151515" stroke-width="3.4" stroke-linecap="round"/>
<g stroke="#7c7c7c" stroke-width="0.85" fill="none">
<line x1="939" y1="40" x2="1036" y2="122"/>
<line x1="721" y1="182" x2="1074" y2="203"/>
<line x1="721" y1="182" x2="917" y2="328"/>
<line x1="721" y1="182" x2="814" y2="428"/>
<line x1="1151" y1="173" x2="1112" y2="264"/>
<line x1="1112" y1="264" x2="1011" y2="296.5"/>
<line x1="1038" y1="368" x2="1108" y2="358"/>
<line x1="1305" y1="117" x2="1287" y2="199"/>
<line x1="1322" y1="214" x2="1318" y2="230"/>
<line x1="1266.5" y1="393" x2="1263.8" y2="402.5"/>
<line x1="1168" y1="338" x2="1190" y2="352"/>
<line x1="1263" y1="457" x2="1189" y2="445.5"/>
<line x1="1101" y1="430" x2="976" y2="407"/>
<line x1="1263" y1="457" x2="1228" y2="426"/>
<line x1="1194" y1="582" x2="1090" y2="540"/>
</g><g stroke="#c6c6c6" stroke-width="0.8" fill="none" opacity="0.8">
<line x1="1318" y1="230" x2="1266.5" y2="393"/>
<line x1="1190" y1="352" x2="1266.5" y2="393"/>
<line x1="1189" y1="445.5" x2="1101" y2="430"/>
<line x1="1228" y1="426" x2="1196" y2="362"/>
</g>
<g font-family="'DejaVu Sans Condensed','Liberation Sans',sans-serif" font-size="16.4" fill="#303030" letter-spacing="0.22">
<text id="d0" x="741" y="46.4">Гайка закладная М8х65</text>
<text id="d1" x="595" y="167">Болт М8х30</text>
<text id="d2" x="595" y="188">Шайба 8 пруж.</text>
<text id="d3" x="595" y="209">Шайба 8 увел.</text>
<text id="d4" x="1128" y="249">Болт М10х30</text>
<text id="d5" x="1128" y="270">Шайба 10 пруж.</text>
<text id="d6" x="1128" y="291">Шайба 10 увел.</text>
<text id="d7" x="1310" y="121.6">Кронштейн передний</text>
<text id="d8" x="936" y="364">Кронштейн</text>
<text id="d9" x="936" y="384">средний</text>
<text id="d10" x="1270" y="409">Гайка закладная М10х110</text>
<text id="d11" x="1270" y="463">Гайка закладная М8х65</text>
<text id="d12" x="1198" y="589">Кронштейн задний</text>
</g>
<defs><linearGradient id="tg" x1="0" y1="0" x2="0" y2="1"><stop offset="0" stop-color="#dedede"/><stop offset="0.25" stop-color="#f3f3f3"/><stop offset="0.5" stop-color="#dcdcdc"/><stop offset="0.75" stop-color="#f3f3f3"/><stop offset="1" stop-color="#d6d6d6"/></linearGradient></defs>
<rect x="870.5" y="656.1" width="546.0" height="42.0" rx="5" fill="#b5b5b5"/>
<rect x="870.5" y="654.6" width="546.0" height="42.0" rx="5" fill="url(#tg)" stroke="#4a4a4a" stroke-width="1.2"/>
<line x1="870.5" y1="676" x2="1416.5" y2="676" stroke="#4a4a4a" stroke-width="1.1"/>
<line x1="1026" y1="654.6" x2="1026" y2="696.6" stroke="#4a4a4a" stroke-width="1.1"/>
<line x1="1124.4" y1="654.6" x2="1124.4" y2="696.6" stroke="#4a4a4a" stroke-width="1.1"/>
<line x1="1221.3" y1="654.6" x2="1221.3" y2="696.6" stroke="#4a4a4a" stroke-width="1.1"/>
<line x1="1319" y1="654.6" x2="1319" y2="696.6" stroke="#4a4a4a" stroke-width="1.1"/>
<g font-family="'Liberation Sans',sans-serif" font-size="12.8" fill="#454545" text-anchor="middle">
<text x="948.2" y="669.6" textLength="120" lengthAdjust="spacingAndGlyphs">Диаметр резьбы</text><text x="948.2" y="691.2" textLength="128" lengthAdjust="spacingAndGlyphs">Моменты затяжки</text>
<text x="1075.2" y="669.6" textLength="21.5" lengthAdjust="spacingAndGlyphs">М6</text><text x="1075.2" y="691.2" textLength="47" lengthAdjust="spacingAndGlyphs">9.8 Нм</text>
<text x="1172.8" y="669.6" textLength="21.5" lengthAdjust="spacingAndGlyphs">М8</text><text x="1172.8" y="691.2" textLength="52" lengthAdjust="spacingAndGlyphs">24.0Нм</text>
<text x="1270" y="669.6" textLength="30" lengthAdjust="spacingAndGlyphs">М10</text><text x="1270" y="691.2" textLength="52" lengthAdjust="spacingAndGlyphs">47.0Нм</text>
<text x="1367.6" y="669.6" textLength="30" lengthAdjust="spacingAndGlyphs">М12</text><text x="1367.6" y="691.2" textLength="52" lengthAdjust="spacingAndGlyphs">81.0Нм</text>
</g>
<text id="note" x="1414.5" y="713" text-anchor="end" textLength="384" lengthAdjust="spacingAndGlyphs" font-family="'Liberation Sans',sans-serif" font-size="12.6" fill="#454545">Не рекомендуется использование пневмоинструмента</text>
</svg>
<!-- /SECTION:DIAGRAM -->

</div>
</body>
</html>
